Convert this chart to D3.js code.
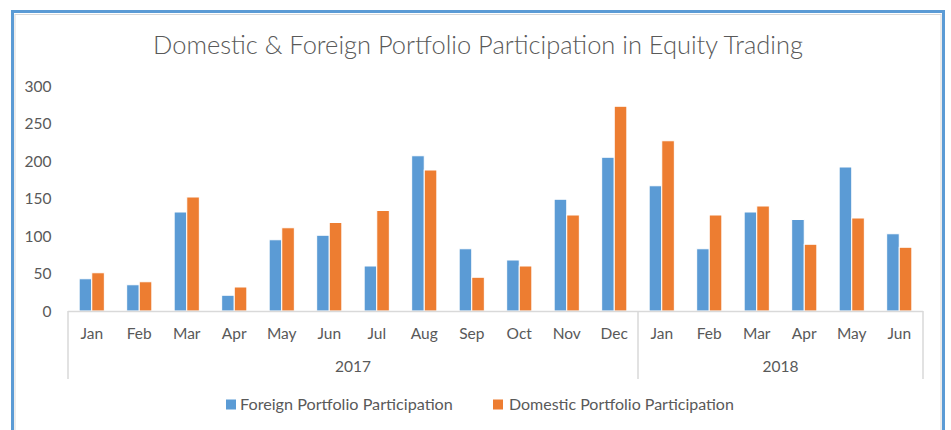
<!DOCTYPE html>
<html>
<head>
<meta charset="utf-8">
<script src="https://cdn.jsdelivr.net/npm/d3@7"></script>
<style>
  body { margin: 0; background: #fff; }
  text { font-family: Lato, "Open Sans", sans-serif; fill: #595959; }
</style>
</head>
<body>
<div id="main"></div>
<script>
// values
let months = ['Jan','Feb','Mar','Apr','May','Jun','Jul','Aug','Sep','Oct','Nov','Dec',
              'Jan','Feb','Mar','Apr','May','Jun'];
let years = [{label: '2017', from: 0, to: 12}, {label: '2018', from: 12, to: 18}];
let foreign  = [43, 35, 132, 21, 95, 101, 60, 207, 83, 68, 149, 205, 167, 83, 132, 122, 192, 103];
let domestic = [51, 39, 152, 32, 111, 118, 134, 188, 45, 60, 128, 273, 227, 128, 140, 89, 124, 85];
let yTicks = [0, 50, 100, 150, 200, 250, 300];
let seriesNames = ['Foreign Portfolio Participation', 'Domestic Portfolio Participation'];
let colors = ['#5B9BD5', '#ED7D31'];

let [W, H] = [951, 430];
let svg = d3.select('#main').append('svg').attr('width', W).attr('height', H);

// frame
svg.append('rect').attr('x', 12.5).attr('y', 11.5).attr('width', 931).attr('height', 440)
  .attr('fill', '#fff').attr('stroke', '#5B9BD5').attr('stroke-width', 3);
svg.append('rect').attr('x', 15).attr('y', 14.5).attr('width', 926).attr('height', 440)
  .attr('fill', 'none').attr('stroke', '#D9D9D9').attr('stroke-width', 1);

let plot = {left: 68, right: 923, top: 86, bottom: 311};

let keys = months.map((m, i) => i);
let x0 = d3.scaleBand().domain(keys).range([plot.left, plot.right])
  .paddingInner(0.47).paddingOuter(0.235);
let x1 = d3.scaleBand().domain([0, 1]).range([0, x0.bandwidth()]);
let y = d3.scaleLinear().domain([0, 300]).range([plot.bottom, plot.top]);
let step = x0.step();

function fit(sel, size, width){
  sel.style('font-size', `${size}px`);
  let w = sel.node().getComputedTextLength();
  sel.style('font-size', `${size * width / w}px`);
}

// title
let title = svg.append('text')
  .attr('x', 478).attr('y', 54).attr('text-anchor', 'middle')
  .style('font-weight', 300)
  .text('Domestic & Foreign Portfolio Participation in Equity Trading');
fit(title, 21, 650);

// y labels
svg.selectAll('.ytick').data(yTicks).join('text')
  .attr('class', 'ytick')
  .attr('x', 51.5).attr('y', d => y(d) + 5.5)
  .attr('text-anchor', 'end').style('font-size', '15.5px')
  .text(d => d);

// bars
let groups = svg.selectAll('.grp').data(keys).join('g')
  .attr('class', 'grp')
  .attr('transform', d => `translate(${x0(d)},0)`);
groups.selectAll('rect')
  .data(i => [foreign[i], domestic[i]].map((v, s) => ({v, s})))
  .join('rect')
  .attr('x', d => x1(d.s))
  .attr('y', d => y(d.v))
  .attr('width', x1.bandwidth())
  .attr('height', d => y(0) - y(d.v))
  .attr('fill', d => colors[d.s])
  .attr('stroke', '#fff').attr('stroke-width', 1);

// category axis
let axisColor = '#D9D9D9';
svg.append('line').attr('x1', plot.left).attr('x2', plot.right)
  .attr('y1', plot.bottom + 0.5).attr('y2', plot.bottom + 0.5)
  .attr('stroke', axisColor).attr('stroke-width', 1.5);
let seps = [0, ...years.map(d => d.to)];
svg.selectAll('.sep').data(seps).join('line')
  .attr('class', 'sep')
  .attr('x1', d => plot.left + d * step).attr('x2', d => plot.left + d * step)
  .attr('y1', plot.bottom).attr('y2', 379)
  .attr('stroke', axisColor).attr('stroke-width', 1.5);

svg.selectAll('.mlab').data(keys).join('text')
  .attr('class', 'mlab')
  .attr('x', d => x0(d) + x0.bandwidth() / 2)
  .attr('y', 338.5).attr('text-anchor', 'middle').style('font-size', '15.5px')
  .text(d => months[d]);

svg.selectAll('.ylab').data(years).join('text')
  .attr('class', 'ylab')
  .attr('x', d => plot.left + (d.from + d.to) / 2 * step)
  .attr('y', 372).attr('text-anchor', 'middle').style('font-size', '15.5px')
  .text(d => d.label);

// legend
let legendX = [226, 493];
let legendW = [213, 225];
let leg = svg.selectAll('.leg').data(seriesNames).join('g')
  .attr('class', 'leg')
  .attr('transform', (d, i) => `translate(${legendX[i]},399.5)`);
leg.append('rect').attr('width', 10).attr('height', 10).attr('fill', (d, i) => colors[i]);
leg.append('text').attr('x', d => d === seriesNames[0] ? 14 : 16).attr('y', 10.5)
  .text(d => d)
  .each(function(d, i){ fit(d3.select(this), 16, legendW[i]); });
</script>
</body>
</html>
